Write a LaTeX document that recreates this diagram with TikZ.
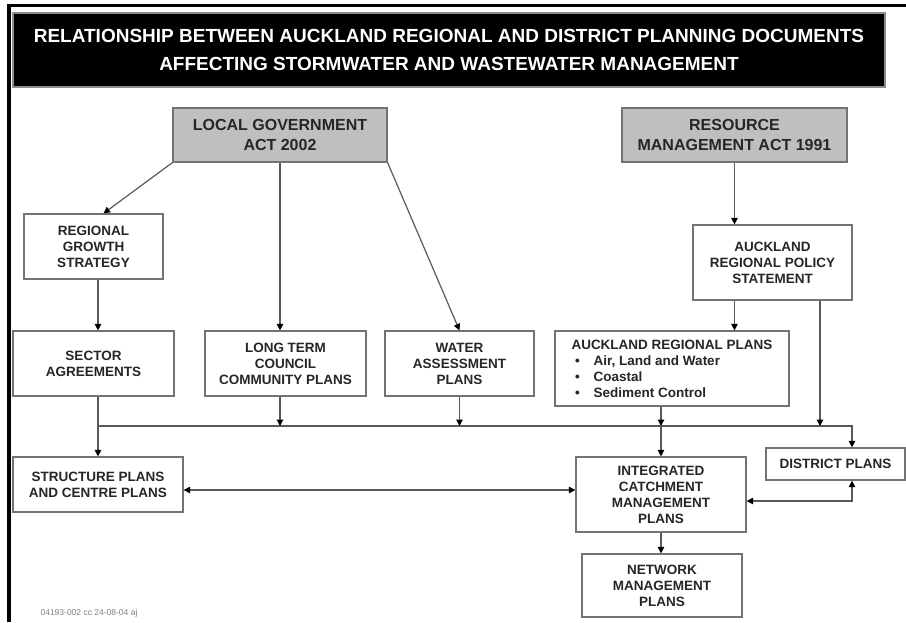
\documentclass[tikz,border=0pt]{standalone}
\usepackage{fontspec}
\setmainfont{Liberation Sans}
\usetikzlibrary{positioning, arrows.meta, calc}

\newcommand{\arpitem}[1]{\makebox[210pt][l]{\hspace{8pt}\textbullet\hspace{14pt}#1}}

\begin{document}
\begin{tikzpicture}[
		x=1pt, y=-1pt,
		every node/.style={font=\bfseries\fontsize{13.5}{16}\selectfont, text=black!85, align=center, inner sep=0pt},
		doc/.style={rectangle, draw=black!55, line width=1.2pt, fill=white},
		act/.style={doc, fill=black!25, font=\bfseries\fontsize{16}{20}\selectfont},
		link/.style={draw=black!65, line width=1.2pt},
		pointer/.style={link, -{Triangle[length=6.5pt, width=6.5pt, color=black]}},
		twoway/.style={link, {Triangle[length=6.5pt, width=6.5pt, color=black]}-{Triangle[length=6.5pt, width=6.5pt, color=black]}}
		]
		\useasboundingbox (0,0) rectangle (906,622);
		
		% Page frame
		\draw[line width=3pt] (7,5.5) -- (906,5.5);
		\draw[line width=4pt] (9,4) -- (9,622);
		
		% Title
		\node[fill=black, draw=black!45, line width=2pt, minimum width=872, minimum height=74, text=white, font=\bfseries\fontsize{19}{28}\selectfont] (title) at (449,50) {RELATIONSHIP BETWEEN AUCKLAND REGIONAL AND DISTRICT PLANNING DOCUMENTS\\ AFFECTING STORMWATER AND WASTEWATER MANAGEMENT};
		
		% Acts
		\node[act, minimum width=214, minimum height=54] (lga) at (280,135) {LOCAL GOVERNMENT\\ ACT 2002};
		\node[act, minimum width=225, minimum height=54] (rma) at (734.5,135) {RESOURCE\\ MANAGEMENT ACT 1991};
		
		% Strategy and policy
		\node[doc, minimum width=139, minimum height=65] (rgs) at (93.5,246.5) {REGIONAL\\ GROWTH\\ STRATEGY};
		\node[doc, minimum width=159, minimum height=75] (arps) at (772.5,262.5) {AUCKLAND\\ REGIONAL POLICY\\ STATEMENT};
		
		% Plans row
		\node[doc, minimum width=161, minimum height=65] (sec) at (93.5,363.5) {SECTOR\\ AGREEMENTS};
		\node[doc, minimum width=161, minimum height=65] (ltccp) at (285.5,363.5) {LONG TERM\\ COUNCIL\\ COMMUNITY PLANS};
		\node[doc, minimum width=149, minimum height=65] (wap) at (459.5,363.5) {WATER\\ ASSESSMENT\\ PLANS};
		\node[doc, minimum width=234, minimum height=75] (arp) at (672,368.5) {AUCKLAND REGIONAL PLANS\\ \arpitem{Air, Land and Water}\\ \arpitem{Coastal}\\ \arpitem{Sediment Control}};
		
		% Lower plans
		\node[doc, minimum width=170, minimum height=55] (struct) at (98,484.5) {STRUCTURE PLANS\\ AND CENTRE PLANS};
		\node[doc, minimum width=170, minimum height=75] (icmp) at (661,494.5) {INTEGRATED\\ CATCHMENT\\ MANAGEMENT\\ PLANS};
		\node[doc, minimum width=139, minimum height=32] (dist) at (835.5,464) {DISTRICT PLANS};
		\node[doc, minimum width=160, minimum height=63] (nmp) at (662,585.5) {NETWORK\\ MANAGEMENT\\ PLANS};
		
		% Reference stamp
		\node[font=\mdseries\fontsize{8.5}{9}\selectfont, text=black!50] (stamp) at (89,613) {04193-002 cc 24-08-04 aj};
		
		% Helper coordinates
		\coordinate (bus) at (0,426);
		\coordinate (col) at (98,0);
		\coordinate (bend) at (852,0);
		\coordinate (sx) at (0,490);
		\coordinate (dy) at (0,501);
		
		% Links from the acts
		\draw[pointer] (lga.south west) -- ([xshift=10pt]rgs.north);
		\draw[pointer] (lga.south) -- (lga.south |- ltccp.north);
		\draw[pointer] (lga.south east) -- (wap.north);
		\draw[pointer] (rma.south) -- (rma.south |- arps.north);
		\draw[pointer] (arps.south -| rma.south) -- (arp.north -| rma.south);
		
		% Left column
		\draw[pointer] (rgs.south -| col) -- (sec.north -| col);
		\draw[pointer] (sec.south -| col) -- (struct.north -| col);
		
		% Common line
		\draw[pointer] (col |- bus) -| (dist.north -| bend);
		\draw[pointer] (ltccp.south -| lga.south) -- (lga.south |- bus);
		\draw[pointer] (wap.south) -- (wap.south |- bus);
		\draw[pointer] (arp.south -| icmp.north) -- (icmp.north |- bus);
		\draw[pointer] (icmp.north |- bus) -- (icmp.north);
		\draw[pointer] ([xshift=47.5pt]arps.south) -- ([xshift=47.5pt]arps.south |- bus);
		
		% Two-way links
		\draw[twoway] (struct.east |- sx) -- (icmp.west |- sx);
		\draw[twoway] (icmp.east |- dy) -| (dist.south -| bend);
		\draw[pointer] (icmp.south) -- (icmp.south |- nmp.north);
		
	\end{tikzpicture}
\end{document}
